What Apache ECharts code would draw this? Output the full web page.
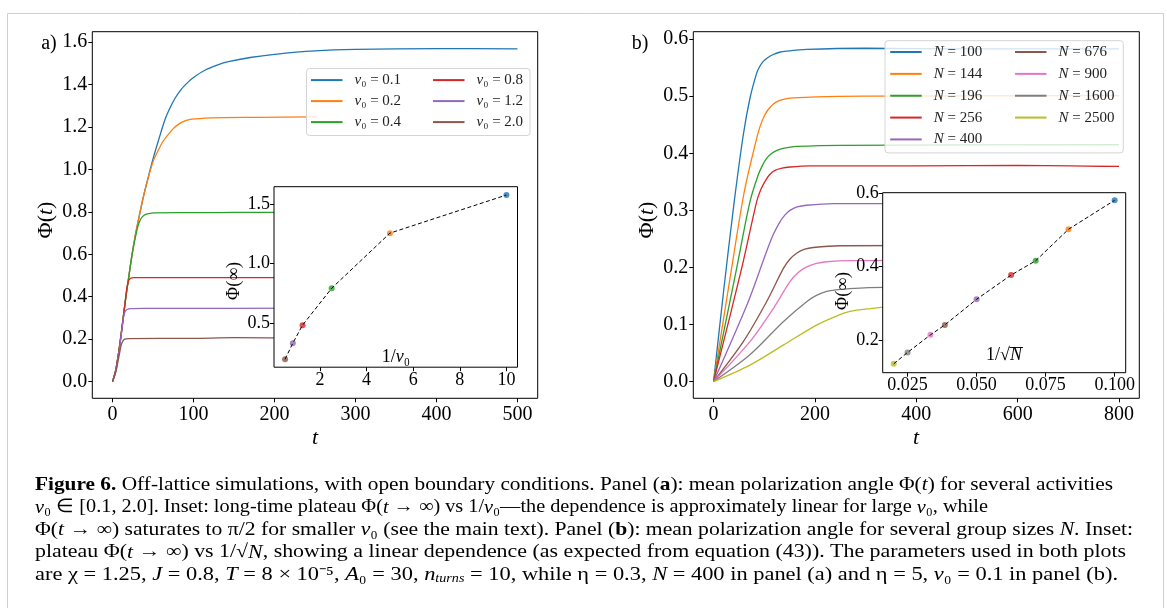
<!DOCTYPE html>
<html>
<head>
<meta charset="utf-8">
<script src="https://cdn.jsdelivr.net/npm/echarts/dist/echarts.min.js"></script>
<style>
html,body{margin:0;padding:0;background:#fff;}
#chart{width:1167px;height:608px;}
</style>
</head>
<body>
<div id="chart"></div>
<script>
// ---------------- DATA ----------------
// Panel (a): Phi(t) for several v0  ([t, Phi])
const namesA = ['v0 = 0.1', 'v0 = 0.2', 'v0 = 0.4', 'v0 = 0.8', 'v0 = 1.2', 'v0 = 2.0'];
const curveV01 = [[0,0],[4,0.055],[8,0.149],[11.3,0.243],[15.4,0.369],[19.5,0.479],[23.7,0.589],[27.8,0.683],[31.9,0.761],[38.1,0.871],[44.2,0.965],[50.4,1.055],[56.6,1.135],[64.8,1.235],[70,1.282],[77.2,1.335],[85,1.378],[93.6,1.412],[100,1.433],[114,1.467],[130,1.492],[143,1.507],[170,1.527],[200,1.542],[250,1.558],[300,1.565],[400,1.569],[500,1.568]];
const curveV02 = [[0,0],[4,0.055],[8,0.149],[11.3,0.243],[15.4,0.369],[19.5,0.479],[23.7,0.589],[27.8,0.683],[31.9,0.761],[38.1,0.871],[44.2,0.962],[50.4,1.04],[56.6,1.091],[62,1.13],[68.9,1.165],[75,1.192],[81.3,1.212],[88,1.226],[95,1.234],[101.9,1.238],[122,1.243],[180,1.245],[252,1.247]];
const curveV04 = [[0,0],[4,0.055],[8,0.149],[11.3,0.243],[15.4,0.369],[19.5,0.479],[23.7,0.589],[27.8,0.672],[31,0.727],[34,0.76],[37,0.777],[40.1,0.787],[45,0.792],[50.4,0.795],[100,0.796],[150,0.797],[250,0.798]];
const curveV08 = [[0,0],[4,0.055],[8,0.149],[11.3,0.243],[15.4,0.369],[17.5,0.437],[19.5,0.472],[22,0.486],[26,0.49],[100,0.49],[250,0.49]];
const curveV12 = [[0,0],[4,0.05],[8,0.14],[11,0.23],[13.5,0.3],[15.5,0.33],[18,0.34],[22,0.344],[40,0.345],[250,0.346]];
const curveV20 = [[0,0],[4,0.045],[8,0.12],[10.5,0.17],[12.5,0.19],[15,0.2],[20,0.203],[100,0.204],[150,0.207],[250,0.205]];

// Inset (a): plateau vs 1/v0
const invV0 = [0.5, 0.833, 1.25, 2.5, 5, 10];
const plateauA = [0.197, 0.332, 0.483, 0.793, 1.256, 1.576];

// Panel (b): Phi(t) for several N
const namesB = ['N = 100', 'N = 144', 'N = 196', 'N = 256', 'N = 400', 'N = 676', 'N = 900', 'N = 1600', 'N = 2500'];
const curveN100 = [[0,0],[20,0.16],[40,0.31],[58.6,0.432],[71.7,0.496],[84.9,0.54],[91,0.552],[98,0.561],[106,0.567],[117.8,0.573],[130,0.577],[144,0.579],[183.6,0.582],[300,0.584],[500,0.583],[800,0.583]];
const curveN144 = [[0,0],[35.5,0.198],[60,0.33],[81.6,0.414],[91,0.445],[101,0.467],[112,0.481],[124,0.49],[140,0.495],[157,0.497],[203,0.499],[300,0.5],[800,0.501]];
const curveN196 = [[0,0],[45.4,0.198],[71.7,0.315],[88,0.362],[96,0.378],[104.6,0.391],[115,0.4],[127.6,0.406],[145,0.41],[163.8,0.412],[250,0.414],[800,0.415]];
const curveN256 = [[0,0],[55.3,0.198],[84.9,0.315],[93,0.336],[101,0.35],[110,0.362],[121,0.37],[135,0.374],[150.7,0.376],[190,0.378],[400,0.378],[600,0.379],[800,0.377]];
const curveN400 = [[0,0],[68.4,0.14],[104.6,0.228],[118,0.258],[131,0.28],[141,0.292],[150.7,0.3],[165,0.306],[183.6,0.309],[236,0.312],[800,0.312]];
const curveN676 = [[0,0],[58.6,0.07],[104.6,0.14],[137.5,0.198],[150,0.214],[163.8,0.225],[180,0.232],[196.7,0.235],[249,0.238],[800,0.239]];
const curveN900 = [[0,0],[71.7,0.07],[117.8,0.128],[150.7,0.175],[167,0.191],[183.6,0.201],[203,0.207],[223,0.21],[269,0.212],[800,0.213]];
const curveN1600 = [[0,0],[71.7,0.047],[137.5,0.105],[183.6,0.14],[203,0.151],[223,0.158],[245,0.161],[269,0.163],[335,0.165],[800,0.166]];
const curveN2500 = [[0,0],[71.7,0.029],[137.5,0.064],[203,0.099],[240,0.114],[269,0.123],[310,0.128],[348,0.131],[450,0.134],[800,0.135]];

// Inset (b): plateau vs 1/sqrt(N)
const invSqrtN = [0.02, 0.025, 0.0333, 0.0385, 0.05, 0.0625, 0.0714, 0.0833, 0.1];
const plateauB = [0.135, 0.166, 0.214, 0.241, 0.311, 0.377, 0.416, 0.502, 0.581];

// Tick labels
const ticksAx = [0, 100, 200, 300, 400, 500];
const ticksAy = [0, 0.2, 0.4, 0.6, 0.8, 1.0, 1.2, 1.4, 1.6];
const ticksAix = [2, 4, 6, 8, 10];
const ticksAiy = [0.5, 1.0, 1.5];
const ticksBx = [0, 200, 400, 600, 800];
const ticksBy = [0, 0.1, 0.2, 0.3, 0.4, 0.5, 0.6];
const ticksBix = [0.025, 0.05, 0.075, 0.1];
const ticksBiy = [0.2, 0.4, 0.6];

// ---------------- STYLE ----------------
const SERIF = 'Liberation Serif';
const COLORS = ['#1f77b4','#ff7f0e','#2ca02c','#d62728','#9467bd','#8c564b','#e377c2','#7f7f7f','#bcbd22'];
const curvesA = [curveV01, curveV02, curveV04, curveV08, curveV12, curveV20];
const curvesB = [curveN100, curveN144, curveN196, curveN256, curveN400, curveN676, curveN900, curveN1600, curveN2500];

const chart = echarts.init(document.getElementById('chart'), null, {renderer: 'canvas'});

function axis(gridIndex, min, max, ticks, fmt, fontSize, margin, extra) {
  return Object.assign({
    type: 'value', gridIndex, min, max,
    axisLine: {show: false, onZero: false},
    axisTick: {show: true, inside: false, length: 4, customValues: ticks, lineStyle: {color: '#000', width: 1}},
    axisLabel: {show: true, customValues: ticks, formatter: fmt, fontFamily: SERIF, fontSize, color: '#000', margin},
    splitLine: {show: false}
  }, extra || {});
}
const f1 = v => v.toFixed(1);
const f0 = v => String(Math.round(v));
const f3 = v => v.toFixed(3);

const series = [];
curvesA.forEach((c, i) => series.push({
  type: 'line', name: namesA[i], xAxisIndex: 0, yAxisIndex: 0, data: c,
  showSymbol: false, symbol: 'none', smooth: 0.3, z: 2,
  lineStyle: {color: COLORS[i], width: 1.3}, itemStyle: {color: COLORS[i]}
}));
curvesB.forEach((c, i) => series.push({
  type: 'line', name: namesB[i], xAxisIndex: 2, yAxisIndex: 2, data: c,
  showSymbol: false, symbol: 'none', smooth: 0.3, z: 2,
  lineStyle: {color: COLORS[i], width: 1.3}, itemStyle: {color: COLORS[i]}
}));
// inset a
const ptsA = invV0.map((x, i) => [x, plateauA[i]]);
const colA = [5, 4, 3, 2, 1, 0];
series.push({type: 'scatter', xAxisIndex: 1, yAxisIndex: 1, z: 7, symbolSize: 6,
  data: ptsA.map((p, i) => ({value: p, itemStyle: {color: COLORS[colA[i]]}}))});
series.push({type: 'line', xAxisIndex: 1, yAxisIndex: 1, z: 8, data: ptsA, showSymbol: false, symbol: 'none',
  lineStyle: {color: '#000', width: 1, type: [4, 2.5]}});
// inset b
const ptsB = invSqrtN.map((x, i) => [x, plateauB[i]]);
const colB = [8, 7, 6, 5, 4, 3, 2, 1, 0];
series.push({type: 'scatter', xAxisIndex: 3, yAxisIndex: 3, z: 7, symbolSize: 6,
  data: ptsB.map((p, i) => ({value: p, itemStyle: {color: COLORS[colB[i]]}}))});
series.push({type: 'line', xAxisIndex: 3, yAxisIndex: 3, z: 8, data: ptsB, showSymbol: false, symbol: 'none',
  lineStyle: {color: '#000', width: 1, type: [4, 2.5]}});

const legRich = lh => ({
  g: {width: 7, fontSize: 15, fontFamily: SERIF, lineHeight: lh},
  i: {fontStyle: 'italic', fontSize: 15, fontFamily: SERIF, color: '#222', lineHeight: lh},
  r: {fontSize: 15, fontFamily: SERIF, color: '#222', lineHeight: lh}
});
function legend(data, left, top, h, fmt) {
  return {
    orient: 'vertical', left, top, padding: 0, itemGap: 0, itemWidth: 31.5, itemHeight: 2,
    icon: 'rect', data, selectedMode: false, z: 5,
    formatter: fmt,
    textStyle: {rich: legRich(h), fontFamily: SERIF, fontSize: 15, lineHeight: h}
  };
}
const fmtA = n => '{g| }{i|v}{r|₀ = ' + n.split('= ')[1] + '}';
const fmtB = n => '{g| }{i|N}{r| = ' + n.split('= ')[1] + '}';

// ---------------- caption ----------------
const capStyles = {
  r: {fontFamily: SERIF, fontSize: 19, color: '#111'},
  i: {fontFamily: SERIF, fontSize: 19, fontStyle: 'italic', color: '#111'},
  b: {fontFamily: SERIF, fontSize: 19, fontWeight: 'bold', color: '#111'},
  bl: {fontFamily: SERIF, fontSize: 19, color: '#2d8ad0'},
  s: {fontFamily: SERIF, fontSize: 12, fontStyle: 'italic', color: '#111', verticalAlign: 'bottom'}
};
const capLines = [
  [['b','Figure 6.'],['r',' Off-lattice simulations, with open boundary conditions. Panel ('],['b','a'],['r','): mean polarization angle Φ('],['i','t'],['r',') for several activities']],
  [['i','v'],['r','₀ ∈ [0.1, 2.0]. Inset: long-time plateau Φ('],['i','t'],['r',' → ∞) vs 1/'],['i','v'],['r','₀—the dependence is approximately linear for large '],['i','v'],['r','₀, while']],
  [['r','Φ('],['i','t'],['r',' → ∞) saturates to π/2 for smaller '],['i','v'],['r','₀ (see the main text). Panel ('],['b','b'],['r','): mean polarization angle for several group sizes '],['i','N'],['r','. Inset:']],
  [['r','plateau Φ('],['i','t'],['r',' → ∞) vs 1/√'],['i','N'],['r',', showing a linear dependence (as expected from equation ('],['bl','43'],['r','))' + '. The parameters used in both plots']],
  [['r','are χ = 1.25, '],['i','J'],['r',' = 0.8, '],['i','T'],['r',' = 8 × 10⁻⁵, '],['i','A'],['r','₀ = 30, '],['i','n'],['s','turns'],['r',' = 10, while η = 0.3, '],['i','N'],['r',' = 400 in panel (a) and η = 5, '],['i','v'],['r','₀ = 0.1 in panel (b).']]
];
const capEnds = [1113, 988, 1133, 1126, 1118];
const capY = [485, 507.5, 530, 552.5, 575];
const CAP_X = 35;
const mctx = document.createElement('canvas').getContext('2d');
function fontOf(st) {
  return (st.fontStyle || 'normal') + ' ' + (st.fontWeight || 'normal') + ' ' + st.fontSize + 'px "' + st.fontFamily + '"';
}
function measure(text, st) { mctx.font = fontOf(st); return mctx.measureText(text).width; }
const graphics = [];
capLines.forEach((segs, li) => {
  let w = 0;
  segs.forEach(([k, t]) => { w += measure(t, capStyles[k]); });
  const s = (capEnds[li] - CAP_X) / w;
  graphics.push({
    type: 'text', x: CAP_X, y: capY[li], scaleX: s, z: 10,
    style: {text: segs.map(([k, t]) => '{' + k + '|' + t + '}').join(''), rich: capStyles,
      fontFamily: SERIF, fontSize: 19, verticalAlign: 'middle', align: 'left'}
  });
});

const txtRich = sz => ({
  r: {fontFamily: SERIF, fontSize: sz, color: '#000'},
  i: {fontFamily: SERIF, fontSize: sz, fontStyle: 'italic', color: '#000'}
});
function label(x, y, text, sz, rot, z) {
  return {type: 'text', x, y, rotation: rot || 0, z: z || 10,
    style: {text, rich: txtRich(sz), fontFamily: SERIF, fontSize: sz, align: 'center', verticalAlign: 'middle'}};
}
// radical bar over N in the inset (b) x label
const sqN = {x: 1004, y: 355, sz: 18};
const wPre = measure('1/√', {fontFamily: SERIF, fontSize: sqN.sz});
const wN = measure('N', {fontFamily: SERIF, fontSize: sqN.sz, fontStyle: 'italic'});
const sqStart = sqN.x - (wPre + wN) / 2;
graphics.push(
  {type: 'rect', shape: {x: 7.5, y: 13.5, width: 1156, height: 620}, z: 0, silent: true,
    style: {fill: 'none', stroke: '#cfcfcf', lineWidth: 1}},
  {type: 'rect', shape: {x: 306.5, y: 68.5, width: 223.5, height: 67, r: 3}, z: 3,
    style: {fill: 'rgba(255,255,255,0.8)', stroke: '#d4d4d4', lineWidth: 1}},
  {type: 'rect', shape: {x: 885, y: 40.7, width: 238.3, height: 112.2, r: 3}, z: 3,
    style: {fill: 'rgba(255,255,255,0.8)', stroke: '#d4d4d4', lineWidth: 1}},
  label(49, 43.5, '{r|a)}', 20, 0),
  label(640, 43.5, '{r|b)}', 20, 0),
  label(46, 220, '{r|Φ(}{i|t}{r|)}', 22, Math.PI / 2),
  label(647.5, 220, '{r|Φ(}{i|t}{r|)}', 22, Math.PI / 2),
  label(315, 438, '{i|t}', 22, 0),
  label(916, 438, '{i|t}', 22, 0),
  label(234.5, 281, '{r|Φ(∞)}', 18, Math.PI / 2, 12),
  label(843, 291, '{r|Φ(∞)}', 18, Math.PI / 2, 12),
  label(396, 357, '{r|1/}{i|v}{r|₀}', 18, 0, 12),
  label(sqN.x, sqN.y, '{r|1/√}{i|N}', sqN.sz, 0, 12),
  {type: 'line', z: 12, shape: {x1: sqStart + wPre - 0.5, y1: sqN.y - 7.5, x2: sqStart + wPre + wN + 1, y2: sqN.y - 7.5},
    style: {stroke: '#000', lineWidth: 0.9}}
);

const option = {
  backgroundColor: '#fff',
  animation: false,
  grid: [
    {left: 92.3, top: 31.7, width: 445.4, height: 366.6, show: true, borderColor: '#000', borderWidth: 1, backgroundColor: 'transparent', z: 0, containLabel: false, outerBoundsMode: 'none'},
    {left: 274, top: 186.7, width: 243.5, height: 180.5, show: true, borderColor: '#000', borderWidth: 1, backgroundColor: '#fff', z: 5, containLabel: false, outerBoundsMode: 'none'},
    {left: 693.3, top: 31.7, width: 446, height: 366.6, show: true, borderColor: '#000', borderWidth: 1, backgroundColor: 'transparent', z: 0, containLabel: false, outerBoundsMode: 'none'},
    {left: 882.7, top: 192.7, width: 243, height: 180, show: true, borderColor: '#000', borderWidth: 1, backgroundColor: '#fff', z: 5, containLabel: false, outerBoundsMode: 'none'}
  ],
  xAxis: [
    axis(0, -25, 525, ticksAx, f0, 20, 6),
    axis(1, 0.025, 10.475, ticksAix, f0, 18, 4, {z: 6}),
    axis(2, -40, 840, ticksBx, f0, 20, 6),
    axis(3, 0.016, 0.104, ticksBix, f3, 18, 4, {z: 6})
  ],
  yAxis: [
    axis(0, -0.0785, 1.6485, ticksAy, f1, 20, 5),
    axis(1, 0.13, 1.646, ticksAiy, f1, 18, 4, {z: 6}),
    axis(2, -0.0292, 0.613, ticksBy, f1, 20, 5),
    axis(3, 0.1108, 0.6016, ticksBiy, f1, 18, 4, {z: 6})
  ],
  legend: [
    legend(namesA.slice(0, 3), 311, 69.6, 21, fmtA),
    legend(namesA.slice(3), 433, 69.6, 21, fmtA),
    legend(namesB.slice(0, 5), 890.2, 41.1, 21.85, fmtB),
    legend(namesB.slice(5), 1015, 41.1, 21.85, fmtB)
  ],
  series,
  graphic: {elements: graphics}
};
chart.setOption(option);
</script>
</body>
</html>
